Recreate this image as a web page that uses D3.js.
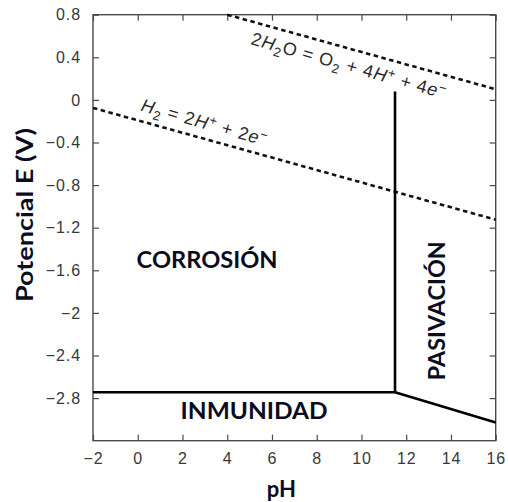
<!DOCTYPE html>
<html>
<head>
<meta charset="utf-8">
<script src="https://cdn.jsdelivr.net/npm/d3@7"></script>
<style>
  html, body { margin: 0; padding: 0; background: #fff; }
  svg { display: block; }
</style>
</head>
<body>
<svg id="chart" width="508" height="502"></svg>
<script>
// Pourbaix-type diagram: potential E (V) against pH

const phTicks = [-2, 0, 2, 4, 6, 8, 10, 12, 14, 16];
const eTicks = [0.8, 0.4, 0, -0.4, -0.8, -1.2, -1.6, -2, -2.4, -2.8];

// Water stability lines (pH, E)
const oxygenLine = [[4.0, 0.80], [16, 0.10]];
const hydrogenLine = [[-2, -0.075], [16, -1.125]];

// Domain boundaries (pH, E)
const immunityBoundary = [[-2, -2.745], [11.5, -2.745]];
const passivationBoundary = [[11.5, 0.08], [11.5, -2.745]];
const alkalineBoundary = [[11.5, -2.745], [16, -3.03]];

// Region names and their anchor points (pH, E)
const regionNames = ["CORROSIÓN", "INMUNIDAD", "PASIVACIÓN"];
const regionAnchors = [[3.1, -1.58], [5.2, -3.0], [13.75, -1.98]];

// Equation labels, split into runs: i = italic, sub = subscript, sup = superscript
const oxygenLabel = [
  { t: "2" }, { t: "H", i: true }, { t: "2", sub: true }, { t: "O = O" }, { t: "2", sub: true },
  { t: " + 4" }, { t: "H", i: true }, { t: "+", sup: true }, { t: " + 4" }, { t: "e", i: true }, { t: "−", sup: true }
];
const hydrogenLabel = [
  { t: "H", i: true }, { t: "2", sub: true }, { t: " = 2" }, { t: "H", i: true }, { t: "+", sup: true },
  { t: " + 2" }, { t: "e", i: true }, { t: "−", sup: true }
];

const svg = d3.select("#chart");
const plotLeft = 93, plotRight = 495.7, plotTop = 14.7, plotBottom = 440.7;

const x = d3.scaleLinear().domain([-2, 16]).range([plotLeft, plotRight]);
const y = d3.scaleLinear().domain([-3.2, 0.8]).range([plotBottom, plotTop]);

const axisColor = "#4a4a4a";
const tickText = "#383838";
const fmt = v => v === 0 ? "0" : d3.format("~g")(v);

function styleAxis(g, showLabels) {
  g.select(".domain").remove();
  g.selectAll(".tick line").attr("stroke", axisColor).attr("stroke-width", 1.2);
  g.selectAll(".tick text")
    .attr("fill", tickText)
    .style("font-family", "'Liberation Sans', Arial, sans-serif")
    .style("font-size", "16px")
    .style("letter-spacing", "0.9px")
    .style("display", showLabels ? null : "none");
}

// Bottom axis with labels, inward ticks
svg.append("g")
  .attr("transform", `translate(0,${plotBottom})`)
  .call(d3.axisBottom(x).tickValues(phTicks).tickFormat(fmt).tickSizeInner(-6).tickSizeOuter(0).tickPadding(12))
  .call(g => styleAxis(g, true));

// Top axis, ticks only
svg.append("g")
  .attr("transform", `translate(0,${plotTop})`)
  .call(d3.axisTop(x).tickValues(phTicks).tickSizeInner(-6).tickSizeOuter(0))
  .call(g => styleAxis(g, false));

// Left axis with labels
svg.append("g")
  .attr("transform", `translate(${plotLeft},0)`)
  .call(d3.axisLeft(y).tickValues(eTicks).tickFormat(fmt).tickSizeInner(-6).tickSizeOuter(0).tickPadding(12))
  .call(g => styleAxis(g, true));

// Right axis, ticks only
svg.append("g")
  .attr("transform", `translate(${plotRight},0)`)
  .call(d3.axisRight(y).tickValues(eTicks).tickSizeInner(-6).tickSizeOuter(0))
  .call(g => styleAxis(g, false));

// Plot frame
svg.append("rect")
  .attr("x", plotLeft).attr("y", plotTop)
  .attr("width", plotRight - plotLeft).attr("height", plotBottom - plotTop)
  .attr("fill", "none").attr("stroke", axisColor).attr("stroke-width", 1.4);

const line = d3.line().x(d => x(d[0])).y(d => y(d[1]));

// Dashed water lines
[oxygenLine, hydrogenLine].forEach(pts => {
  svg.append("path")
    .attr("d", line(pts))
    .attr("fill", "none")
    .attr("stroke", "#111")
    .attr("stroke-width", 2.6)
    .attr("stroke-dasharray", "4.5,3.5");
});

// Solid domain boundaries
[immunityBoundary, passivationBoundary, alkalineBoundary].forEach(pts => {
  svg.append("path")
    .attr("d", line(pts))
    .attr("fill", "none")
    .attr("stroke", "#000")
    .attr("stroke-width", 2.6);
});

// Equation labels along the dashed lines
function equation(parts, px, py, angle) {
  const t = svg.append("text")
    .attr("transform", `translate(${px},${py}) rotate(${angle})`)
    .attr("fill", "#2a2a2a")
    .style("font-family", "'Liberation Sans', Arial, sans-serif")
    .style("font-size", "18px")
    .style("letter-spacing", "0.8px");
  let shift = 0;
  parts.forEach(p => {
    const target = p.sub ? 5 : p.sup ? -6 : 0;
    const s = t.append("tspan")
      .attr("dy", target - shift)
      .text(p.t);
    shift = target;
    if (p.i) s.style("font-style", "italic");
    if (p.sub || p.sup) s.style("font-size", "13px");
  });
}
equation(oxygenLabel, x(5.02), y(0.525), 15.8);
equation(hydrogenLabel, x(0.1), y(-0.10), 15.8);

// Region names
const boldFont = "Lato, 'Open Sans', sans-serif";
const regionLengths = [141, 147, 139];
regionNames.forEach((name, i) => {
  const [ph, e] = regionAnchors[i];
  const vertical = i === 2;
  svg.append("text")
    .attr("transform", `translate(${x(ph)},${y(e)})` + (vertical ? " rotate(-90)" : ""))
    .attr("text-anchor", "middle")
    .attr("textLength", regionLengths[i])
    .attr("lengthAdjust", "spacingAndGlyphs")
    .attr("fill", "#0c0c1e")
    .style("font-family", boldFont)
    .style("font-weight", "bold")
    .style("font-size", "22px")
    .text(name);
});

// Axis titles
svg.append("text")
  .attr("transform", `translate(33,215) rotate(-90)`)
  .attr("text-anchor", "middle")
  .attr("textLength", 174)
  .attr("lengthAdjust", "spacingAndGlyphs")
  .attr("fill", "#0c0c1e")
  .style("font-family", boldFont)
  .style("font-weight", "bold")
  .style("font-size", "22px")
  .text("Potencial E (V)");

svg.append("text")
  .attr("x", (plotLeft + plotRight) / 2 - 13)
  .attr("y", 497)
  .attr("text-anchor", "middle")
  .attr("fill", "#0c0c1e")
  .style("font-family", boldFont)
  .style("font-weight", "bold")
  .style("font-size", "22px")
  .text("pH");
</script>
</body>
</html>
